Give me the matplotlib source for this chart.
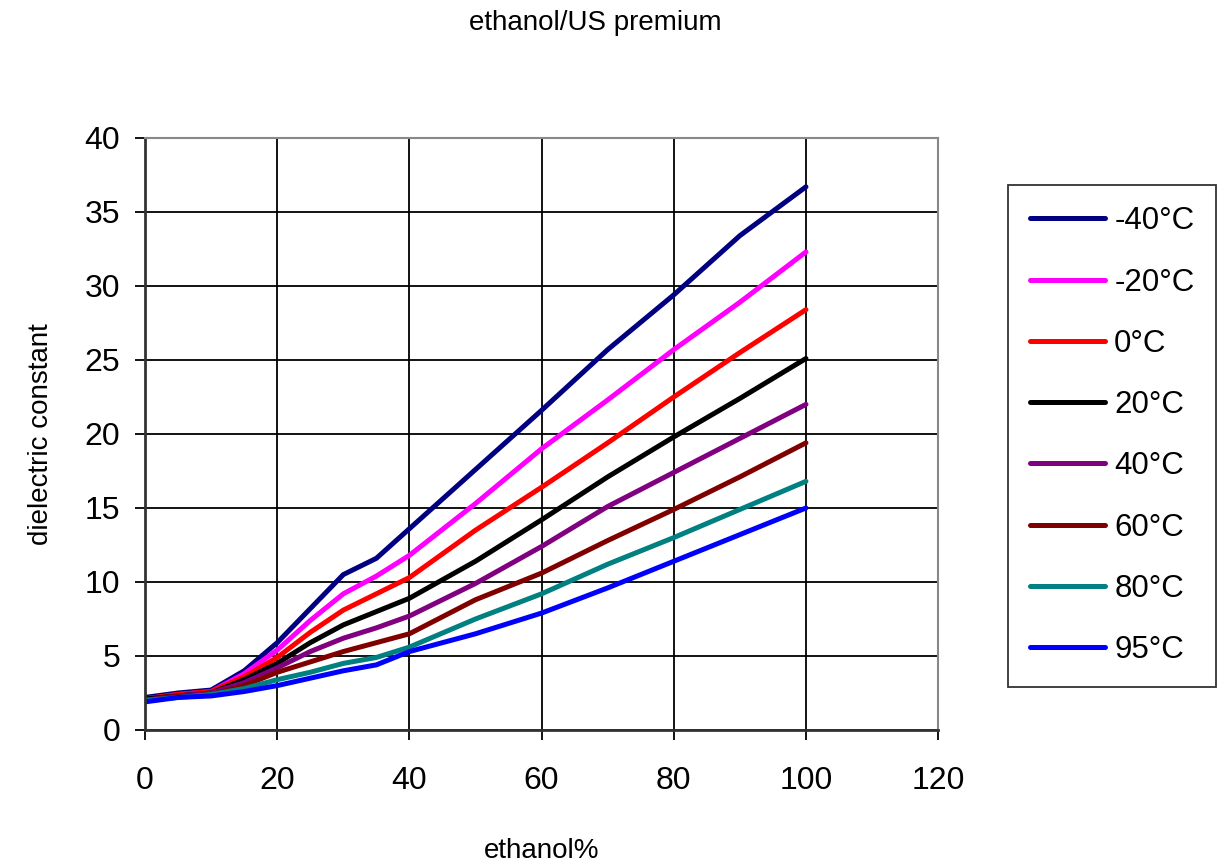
import numpy as np
import matplotlib.pyplot as plt

plt.rcParams['font.family'] = ['Liberation Sans', 'DejaVu Sans']

# ethanol content (%)
ethanol = [0, 5, 10, 15, 20, 25, 30, 35, 40, 50, 60, 70, 80, 90, 100]

# dielectric constant per temperature
t_m40 = [2.2, 2.5, 2.7, 4.0, 5.9, 8.2, 10.5, 11.6, 13.6, 17.6, 21.6, 25.7, 29.4, 33.4, 36.7]
t_m20 = [2.1, 2.4, 2.6, 3.8, 5.4, 7.4, 9.2, 10.4, 11.8, 15.3, 19.0, 22.3, 25.7, 28.9, 32.3]
t_0 = [2.1, 2.4, 2.6, 3.6, 4.9, 6.6, 8.1, 9.2, 10.3, 13.5, 16.4, 19.4, 22.5, 25.5, 28.4]
t_20 = [2.1, 2.3, 2.5, 3.4, 4.5, 5.9, 7.1, 8.0, 8.9, 11.4, 14.2, 17.1, 19.8, 22.4, 25.1]
t_40 = [2.0, 2.3, 2.5, 3.2, 4.2, 5.3, 6.2, 6.9, 7.7, 9.9, 12.4, 15.1, 17.4, 19.7, 22.0]
t_60 = [2.0, 2.3, 2.4, 3.0, 3.9, 4.6, 5.3, 5.9, 6.5, 8.8, 10.6, 12.8, 14.9, 17.1, 19.4]
t_80 = [2.0, 2.2, 2.4, 2.8, 3.4, 3.9, 4.5, 4.9, 5.6, 7.5, 9.2, 11.2, 13.0, 14.9, 16.8]
t_95 = [1.9, 2.2, 2.3, 2.6, 3.0, 3.5, 4.0, 4.4, 5.3, 6.5, 7.9, 9.6, 11.4, 13.2, 15.0]

series = [t_m40, t_m20, t_0, t_20, t_40, t_60, t_80, t_95]
labels = ['-40°C', '-20°C', '0°C', '20°C', '40°C', '60°C', '80°C', '95°C']
colors = ['#000080', '#ff00ff', '#ff0000', '#000000', '#800080', '#800000', '#008080', '#0000ff']

fig = plt.figure(figsize=(12.22, 8.64), dpi=100)
ax = fig.add_axes([0.1187, 0.1551, 0.649, 0.6852])

for y, lab, c in zip(series, labels, colors):
    ax.plot(ethanol, y, color=c, lw=3.6, label=lab, solid_capstyle='round')

ax.set_xlim(0, 120)
ax.set_ylim(0, 40)
ax.set_xticks(range(0, 121, 20))
ax.set_yticks(range(0, 41, 5))
ax.grid(True, color='black', lw=1.3)
ax.set_axisbelow(True)
ax.tick_params(labelsize=23, length=7, width=1.3, direction='out')
ax.tick_params(axis='x', pad=19)
ax.tick_params(axis='y', pad=11)
for s in ['top', 'right']:
    ax.spines[s].set_color('#888888')
    ax.spines[s].set_linewidth(1.5)
for s in ['left', 'bottom']:
    ax.spines[s].set_color('#333333')
    ax.spines[s].set_linewidth(2)

ax.set_xlabel('ethanol%', fontsize=20, labelpad=30)
ax.set_ylabel('dielectric constant', fontsize=20, labelpad=22)
fig.suptitle('ethanol/US premium', fontsize=20, x=0.487, y=0.988)

leg = ax.legend(loc='center left', bbox_to_anchor=(1.088, 0.497), fontsize=22.5,
                frameon=True, fancybox=False, edgecolor='black',
                handlelength=2.4, handletextpad=0.3, labelspacing=1.0,
                borderpad=0.7, borderaxespad=0)
leg.get_frame().set_linewidth(1.3)

fig.savefig('out.png', dpi=100)
